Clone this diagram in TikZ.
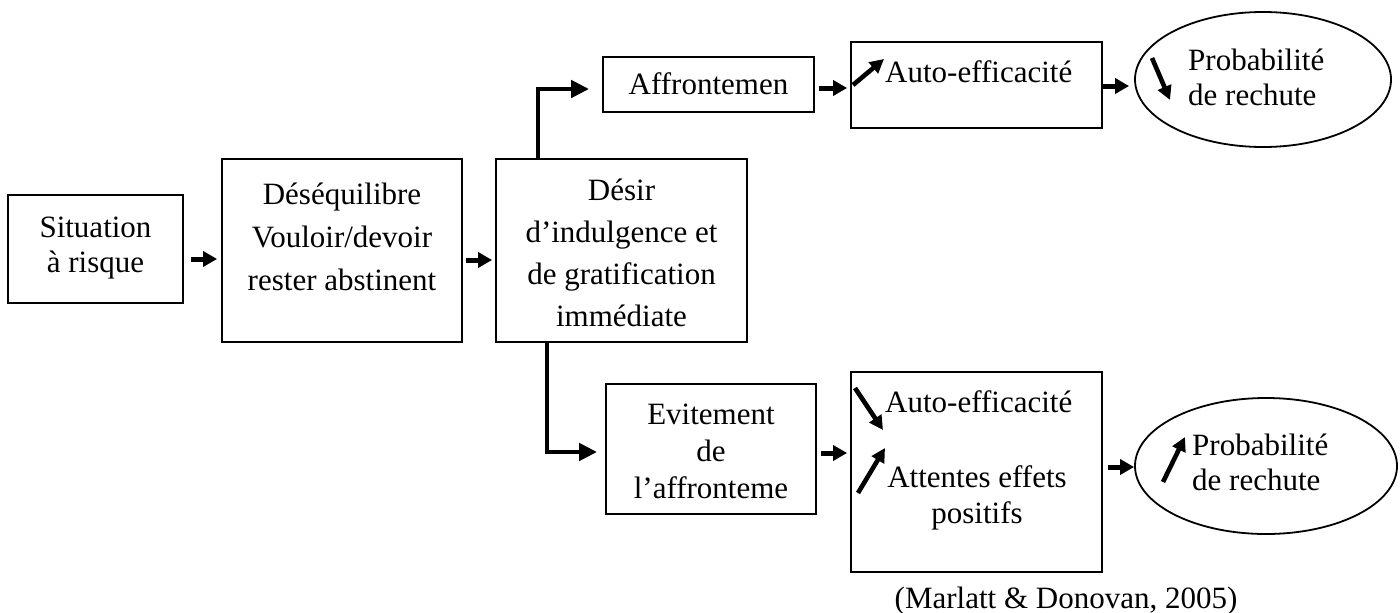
\documentclass[tikz,border=0pt]{standalone}
\usepackage{fontspec}
\setmainfont{Liberation Serif}
\usetikzlibrary{arrows.meta,shapes.geometric}

\tikzset{
  box/.style={draw, line width=1.8pt, rectangle, inner sep=0pt},
  oval/.style={draw, line width=1.8pt, ellipse, inner sep=0pt},
  ctxt/.style={anchor=base, inner sep=0pt, font=\fontsize{31}{36}\selectfont},
  ltxt/.style={anchor=base west, inner sep=0pt, font=\fontsize{31}{36}\selectfont},
  sarrow/.style={line width=5pt, -{Triangle[length=14pt,width=15pt]}},
  elbow/.style={line width=4.6pt, line join=miter, -{Triangle[length=18pt,width=17pt]}},
  trend/.style={line width=4.6pt, -{Triangle[length=14pt,width=14pt]}}
}

\begin{document}
\begin{tikzpicture}[x=1pt,y=-1pt]
\useasboundingbox (0,0) rectangle (1400,613);
\fill[white] (0,0) rectangle (1400,613);

% main chain
\node[box, minimum width=175pt, minimum height=108pt] (b1) at (95.5,249) {};
\node[ctxt] (b1l1) at (95.5,237) {Situation};
\node[ctxt] (b1l2) at (95.5,272) {à risque};

\node[box, minimum width=240pt, minimum height=183pt] (b2) at (342,250.5) {};
\node[ctxt] (b2l1) at (342,204) {Déséquilibre};
\node[ctxt] (b2l2) at (342,247) {Vouloir/devoir};
\node[ctxt] (b2l3) at (342,290) {rester abstinent};

\node[box, minimum width=251pt, minimum height=183pt] (b3) at (621.5,250.5) {};
\node[ctxt] (b3l1) at (621.5,200) {Désir};
\node[ctxt] (b3l2) at (621.5,242) {d’indulgence et};
\node[ctxt] (b3l3) at (621.5,284) {de gratification};
\node[ctxt] (b3l4) at (621.5,326) {immédiate};

% upper branch
\node[box, minimum width=211pt, minimum height=55pt] (aff) at (708.5,84.5) {};
\node[ctxt] (affl) at (708.5,94) {Affrontemen};

\node[box, minimum width=251pt, minimum height=86pt] (ae1) at (976.5,85) {};
\node[ltxt] (ae1l) at (885,82) {Auto-efficacité};

\node[oval, minimum width=256pt, minimum height=135pt] (el1) at (1263,79.5) {};
\node[ltxt] (el1l1) at (1188,70) {Probabilité};
\node[ltxt] (el1l2) at (1188,105) {de rechute};

% lower branch
\node[box, minimum width=210pt, minimum height=130pt] (ev) at (711,449) {};
\node[ctxt] (evl1) at (711,424) {Evitement};
\node[ctxt] (evl2) at (711,461) {de};
\node[ctxt] (evl3) at (711,498) {l’affronteme};

\node[box, minimum width=251pt, minimum height=200pt] (ae2) at (976.5,472) {};
\node[ltxt] (ae2l1) at (885,412) {Auto-efficacité};
\node[ctxt] (ae2l2) at (977,487) {Attentes effets};
\node[ctxt] (ae2l3) at (977,523) {positifs};

\node[oval, minimum width=262pt, minimum height=136pt] (el2) at (1266,466) {};
\node[ltxt] (el2l1) at (1192,455) {Probabilité};
\node[ltxt] (el2l2) at (1192,490) {de rechute};

\node[ctxt] (cite) at (1066,608) {(Marlatt \& Donovan, 2005)};

% connectors
\draw[sarrow, shorten <=7pt, shorten >=4pt] ([yshift=-10pt]b1.east) -- ([yshift=-8.5pt]b2.west);
\draw[sarrow, shorten <=3pt, shorten >=3pt] ([yshift=-9.5pt]b2.east) -- ([yshift=-9.5pt]b3.west);
\draw[elbow, shorten >=13pt] ([xshift=-83.5pt]b3.north) |- ([yshift=-4.5pt]aff.west);
\draw[elbow, shorten >=8pt] ([xshift=-74.5pt]b3.south) |- ([yshift=-3pt]ev.west);
\draw[sarrow, shorten <=4pt, shorten >=3pt] ([yshift=-3.5pt]aff.east) -- ([yshift=-3pt]ae1.west);
\draw[sarrow, shorten >=5pt] ([yshift=-1pt]ae1.east) -- ([yshift=-6.5pt]el1.west);
\draw[sarrow, shorten <=4pt, shorten >=3pt] ([yshift=-4pt]ev.east) -- ([yshift=19pt]ae2.west);
\draw[sarrow, shorten <=5pt] ([yshift=5pt]ae2.east) -- ([yshift=-1pt]el2.west);

% trend indicators
\draw[trend] (853,85) -- (884,59);
\draw[trend] (1152,58) -- (1170,100);
\draw[trend] (855,388) -- (883,430);
\draw[trend] (858,493) -- (885,448);
\draw[trend] (1163,482) -- (1185,437);
\end{tikzpicture}
\end{document}
